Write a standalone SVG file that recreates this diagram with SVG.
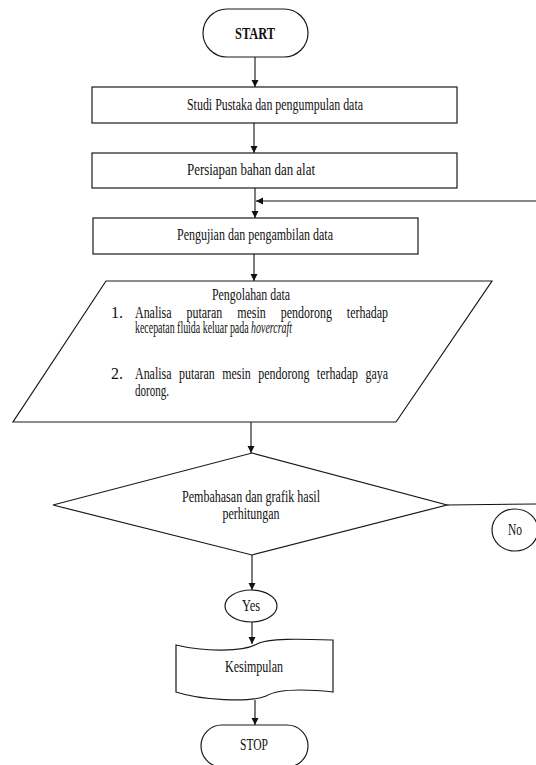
<svg xmlns="http://www.w3.org/2000/svg" width="536" height="765" viewBox="0 0 536 765">
<style>
.shape{fill:#fff;stroke:#1a1a1a;stroke-width:1.2}
.conn{fill:none;stroke:#111;stroke-width:1.1}
text{font-family:"Liberation Serif","Times New Roman",serif;font-size:16px;fill:#111}
.c{text-anchor:middle}
</style>
<defs>
<marker id="arr" viewBox="0 0 10 10" refX="10" refY="5" markerWidth="7" markerHeight="8" markerUnits="userSpaceOnUse" orient="auto">
<path d="M0,0 L10,5 L0,10 z" fill="#111"/>
</marker>
</defs>
<rect width="536" height="765" fill="#fff"/>
<g id="connectors">
<line class="conn" x1="255" y1="57" x2="255" y2="87" marker-end="url(#arr)"/>
<line class="conn" x1="254" y1="123" x2="254" y2="153" marker-end="url(#arr)"/>
<line class="conn" x1="255" y1="188" x2="255" y2="218" marker-end="url(#arr)"/>
<line class="conn" x1="536" y1="201" x2="256" y2="201" marker-end="url(#arr)"/>
<line class="conn" x1="254" y1="254" x2="254" y2="281" marker-end="url(#arr)"/>
<line class="conn" x1="251" y1="422" x2="251" y2="453" marker-end="url(#arr)"/>
<line class="conn" x1="447" y1="505" x2="536" y2="504"/>
<line class="conn" x1="252" y1="555" x2="252" y2="590" marker-end="url(#arr)"/>
<line class="conn" x1="252" y1="622" x2="252" y2="644" marker-end="url(#arr)"/>
<line class="conn" x1="255" y1="700" x2="255" y2="725" marker-end="url(#arr)"/>
</g>
<g id="start">
<rect class="shape" x="203" y="9" width="105" height="48" rx="24" ry="24"/>
<text class="c" x="255" y="39" font-size="17" font-weight="bold" textLength="40" lengthAdjust="spacingAndGlyphs">START</text>
</g>
<g id="studi">
<rect class="shape" x="92" y="87" width="365" height="36"/>
<text class="c" x="275" y="110" textLength="176" lengthAdjust="spacingAndGlyphs">Studi Pustaka dan pengumpulan data</text>
</g>
<g id="persiapan">
<rect class="shape" x="92" y="153" width="365" height="35"/>
<text class="c" x="251" y="175" textLength="128" lengthAdjust="spacingAndGlyphs">Persiapan bahan dan alat</text>
</g>
<g id="pengujian">
<rect class="shape" x="93" y="218" width="325" height="36"/>
<text class="c" x="255" y="240" textLength="156" lengthAdjust="spacingAndGlyphs">Pengujian dan pengambilan data</text>
</g>
<g id="pengolahan">
<polygon class="shape" points="106,281 492,281 396,422 13,422"/>
<text class="c" x="251" y="300" textLength="78" lengthAdjust="spacingAndGlyphs">Pengolahan data</text>
<text x="111" y="318">1.</text>
<text x="135" y="318" word-spacing="16" textLength="253" lengthAdjust="spacingAndGlyphs">Analisa putaran mesin pendorong terhadap</text>
<text x="135" y="333" textLength="157" lengthAdjust="spacingAndGlyphs">kecepatan fluida keluar pada <tspan font-style="italic">hovercraft</tspan></text>
<text x="111" y="379">2.</text>
<text x="135" y="379" word-spacing="6" textLength="253" lengthAdjust="spacingAndGlyphs">Analisa putaran mesin pendorong terhadap gaya</text>
<text x="135" y="396" textLength="34" lengthAdjust="spacingAndGlyphs">dorong.</text>
</g>
<g id="pembahasan">
<polygon class="shape" points="252,453 447,505 252,555 53,505"/>
<text class="c" x="251" y="502" textLength="138" lengthAdjust="spacingAndGlyphs">Pembahasan dan grafik hasil</text>
<text class="c" x="251" y="519" textLength="57" lengthAdjust="spacingAndGlyphs">perhitungan</text>
</g>
<g id="no">
<ellipse class="shape" cx="515" cy="530" rx="23" ry="21"/>
<text class="c" x="515" y="535" font-size="14" textLength="14" lengthAdjust="spacingAndGlyphs">No</text>
</g>
<g id="yes">
<ellipse class="shape" cx="251" cy="606" rx="26" ry="16"/>
<text class="c" x="251" y="611" font-size="14" textLength="18" lengthAdjust="spacingAndGlyphs">Yes</text>
</g>
<g id="kesimpulan">
<path class="shape" d="M176,645 C205,652 243,652 257,644 C268,638 300,639 333,640 L333,692 C305,689 278,689 266,696 C250,703 200,700 176,692 Z"/>
<text class="c" x="254" y="672" textLength="58" lengthAdjust="spacingAndGlyphs">Kesimpulan</text>
</g>
<g id="stop">
<rect class="shape" x="201" y="725" width="107" height="42" rx="21" ry="21"/>
<text class="c" x="254" y="750" textLength="28" lengthAdjust="spacingAndGlyphs">STOP</text>
</g>
</svg>
